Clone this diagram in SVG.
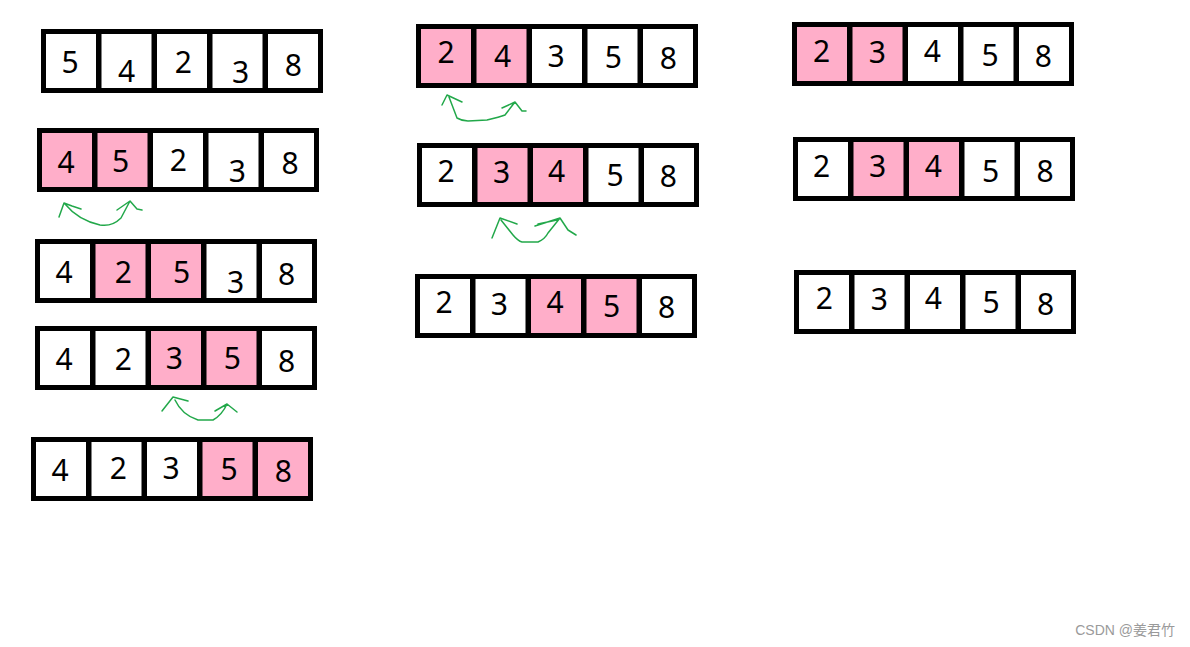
<svg xmlns="http://www.w3.org/2000/svg" width="1190" height="647" viewBox="0 0 1190 647">
<style>
.f{fill:#000}
.w{fill:#fff}
.p{fill:#FFAEC9}
text.d{font-family:"Noto Sans","Open Sans",sans-serif;font-size:30px;fill:#000;text-anchor:middle}
.a{fill:none;stroke:#22A84A;stroke-width:1.5;stroke-linecap:round;stroke-linejoin:round}
.wm{font-family:"Liberation Sans","Noto Sans CJK SC",sans-serif;font-size:14px;fill:#9a9a9a;text-anchor:end}
</style>
<rect width="1190" height="647" fill="#fff"/>

<g id="a1">
<rect class="f" x="41" y="29" width="282" height="64"/>
<rect class="w" x="46" y="34" width="50" height="54"/><rect class="w" x="101.5" y="34" width="50" height="54"/><rect class="w" x="157" y="34" width="50" height="54"/><rect class="w" x="212.5" y="34" width="50" height="54"/><rect class="w" x="268" y="34" width="50" height="54"/>
<text class="d" x="70" y="73">5</text><text class="d" x="126.7" y="82">4</text><text class="d" x="183.3" y="73">2</text><text class="d" x="240.7" y="83">3</text><text class="d" x="293.3" y="76">8</text>
</g>

<g id="a2">
<rect class="f" x="37" y="128" width="282" height="64"/>
<rect class="p" x="42" y="133" width="50" height="54"/><rect class="p" x="97.5" y="133" width="50" height="54"/><rect class="w" x="153" y="133" width="50" height="54"/><rect class="w" x="208.5" y="133" width="50" height="54"/><rect class="w" x="264" y="133" width="50" height="54"/>
<text class="d" x="66" y="173">4</text><text class="d" x="120.7" y="172">5</text><text class="d" x="178.3" y="171">2</text><text class="d" x="237.3" y="182">3</text><text class="d" x="290" y="174">8</text>
</g>

<g id="a3">
<rect class="f" x="35" y="239" width="282" height="64"/>
<rect class="w" x="40" y="244" width="50" height="54"/><rect class="p" x="95.5" y="244" width="50" height="54"/><rect class="p" x="151" y="244" width="50" height="54"/><rect class="w" x="206.5" y="244" width="50" height="54"/><rect class="w" x="262" y="244" width="50" height="54"/>
<text class="d" x="64" y="283">4</text><text class="d" x="123.3" y="283">2</text><text class="d" x="181.7" y="283">5</text><text class="d" x="235.7" y="293">3</text><text class="d" x="286.7" y="285">8</text>
</g>

<g id="a4">
<rect class="f" x="35" y="326" width="282" height="64"/>
<rect class="w" x="40" y="331" width="50" height="54"/><rect class="w" x="95.5" y="331" width="50" height="54"/><rect class="p" x="151" y="331" width="50" height="54"/><rect class="p" x="206.5" y="331" width="50" height="54"/><rect class="w" x="262" y="331" width="50" height="54"/>
<text class="d" x="64" y="370">4</text><text class="d" x="123.3" y="370">2</text><text class="d" x="174.3" y="369">3</text><text class="d" x="232.3" y="369">5</text><text class="d" x="286.7" y="372">8</text>
</g>

<g id="a5">
<rect class="f" x="31" y="437" width="282" height="64"/>
<rect class="w" x="36" y="442" width="50" height="54"/><rect class="w" x="91.5" y="442" width="50" height="54"/><rect class="w" x="147" y="442" width="50" height="54"/><rect class="p" x="202.5" y="442" width="50" height="54"/><rect class="p" x="258" y="442" width="50" height="54"/>
<text class="d" x="60" y="481">4</text><text class="d" x="118.3" y="479">2</text><text class="d" x="171" y="479">3</text><text class="d" x="229" y="480">5</text><text class="d" x="283.3" y="482">8</text>
</g>

<g id="b1">
<rect class="f" x="416" y="24" width="282" height="64"/>
<rect class="p" x="421" y="29" width="50" height="54"/><rect class="p" x="476.5" y="29" width="50" height="54"/><rect class="w" x="532" y="29" width="50" height="54"/><rect class="w" x="587.5" y="29" width="50" height="54"/><rect class="w" x="643" y="29" width="50" height="54"/>
<text class="d" x="446" y="63">2</text><text class="d" x="502.7" y="67">4</text><text class="d" x="556" y="67">3</text><text class="d" x="613.3" y="68">5</text><text class="d" x="668.3" y="69">8</text>
</g>

<g id="b2">
<rect class="f" x="417" y="143" width="282" height="64"/>
<rect class="w" x="422" y="148" width="50" height="54"/><rect class="p" x="477.5" y="148" width="50" height="54"/><rect class="p" x="533" y="148" width="50" height="54"/><rect class="w" x="588.5" y="148" width="50" height="54"/><rect class="w" x="644" y="148" width="50" height="54"/>
<text class="d" x="446" y="182">2</text><text class="d" x="501.7" y="183">3</text><text class="d" x="556.7" y="182">4</text><text class="d" x="615" y="186">5</text><text class="d" x="668.3" y="187">8</text>
</g>

<g id="b3">
<rect class="f" x="415" y="274" width="282" height="64"/>
<rect class="w" x="420" y="279" width="50" height="54"/><rect class="w" x="475.5" y="279" width="50" height="54"/><rect class="p" x="531" y="279" width="50" height="54"/><rect class="p" x="586.5" y="279" width="50" height="54"/><rect class="w" x="642" y="279" width="50" height="54"/>
<text class="d" x="444" y="313">2</text><text class="d" x="499.3" y="315">3</text><text class="d" x="555" y="313">4</text><text class="d" x="611.7" y="317">5</text><text class="d" x="666.7" y="318">8</text>
</g>

<g id="c1">
<rect class="f" x="792" y="22" width="282" height="64"/>
<rect class="p" x="797" y="27" width="50" height="54"/><rect class="p" x="852.5" y="27" width="50" height="54"/><rect class="w" x="908" y="27" width="50" height="54"/><rect class="w" x="963.5" y="27" width="50" height="54"/><rect class="w" x="1019" y="27" width="50" height="54"/>
<text class="d" x="821.7" y="62">2</text><text class="d" x="877.3" y="63">3</text><text class="d" x="932.3" y="62">4</text><text class="d" x="990" y="66">5</text><text class="d" x="1043.3" y="67">8</text>
</g>

<g id="c2">
<rect class="f" x="793" y="137" width="282" height="64"/>
<rect class="w" x="798" y="142" width="50" height="54"/><rect class="p" x="853.5" y="142" width="50" height="54"/><rect class="p" x="909" y="142" width="50" height="54"/><rect class="w" x="964.5" y="142" width="50" height="54"/><rect class="w" x="1020" y="142" width="50" height="54"/>
<text class="d" x="821.7" y="177">2</text><text class="d" x="877.7" y="177">3</text><text class="d" x="933.3" y="177">4</text><text class="d" x="990.7" y="182">5</text><text class="d" x="1045" y="182">8</text>
</g>

<g id="c3">
<rect class="f" x="794" y="270" width="282" height="64"/>
<rect class="w" x="799" y="275" width="50" height="54"/><rect class="w" x="854.5" y="275" width="50" height="54"/><rect class="w" x="910" y="275" width="50" height="54"/><rect class="w" x="965.5" y="275" width="50" height="54"/><rect class="w" x="1021" y="275" width="50" height="54"/>
<text class="d" x="824.3" y="309">2</text><text class="d" x="879.3" y="310">3</text><text class="d" x="933.3" y="309">4</text><text class="d" x="991" y="313">5</text><text class="d" x="1045.7" y="315">8</text>
</g>

<g id="connectors">
<path class="a" d="M59,217 L64,203 L72,206 L81,209 M65,204 Q78,220 100,225 Q112,227 121,218 L130,201 M117,210 L130,201 L137,209 L142,210"/>
<path class="a" d="M162,411 L173,397 L188,401 M175,400 Q182,415 198,420 L213,420 Q222,415 227,404 M215,411 L227,404 L237,412"/>
<path class="a" d="M442,105 L447,95 L462,102 M449,97 L457,118 Q462,121 468,121 L487,120 Q500,117 505,115 L515,102 M502,108 L515,102 L522,111 L526,111"/>
<path class="a" d="M492,238 L500,218 L517,224 M501,220 L513,235 Q518,241 522,242 L538,242 Q545,239 548,233 L560,218 M535,226 L560,218 M538,224 L557,220 M560,218 L568,230 L576,235"/>
</g>

<text class="wm" x="1175" y="635">CSDN @姜君竹</text>
</svg>
